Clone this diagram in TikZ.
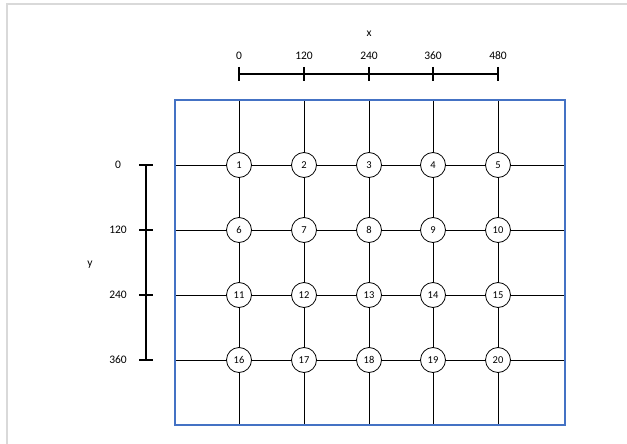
\documentclass[tikz,border=0pt]{standalone}
\usepackage{fontspec}
\setmainfont{Carlito}
\definecolor{frameblue}{RGB}{68,114,196}
\definecolor{bordergray}{RGB}{217,217,217}
\tikzset{
  gnode/.style={circle,draw=black,fill=white,line width=0.8pt,minimum size=25pt,inner sep=0pt,font=\fontsize{10.5}{12}\selectfont},
  gline/.style={draw=black,line width=0.9pt},
  axisline/.style={draw=black,line width=1.5pt},
  lbl/.style={font=\fontsize{11.5}{13}\selectfont,inner sep=0pt},
}
\begin{document}
\begin{tikzpicture}[x=1pt,y=-1pt]
\useasboundingbox (0,0) rectangle (627,444);
% faint page border
\draw[bordergray,line width=2pt] (7,444) -- (7,4) -- (627,4);
% columns and rows
\foreach \c [count=\i] in {239,304,369,433,498} {
  \coordinate (t\i) at (\c,100);
  \coordinate (b\i) at (\c,425);
}
\foreach \r [count=\j] in {165,230,295,360} {
  \coordinate (l\j) at (175,\r);
  \coordinate (r\j) at (565,\r);
}
% nodes
\foreach \r [count=\j] in {165,230,295,360} {
  \foreach \c [count=\i] in {239,304,369,433,498} {
    \pgfmathtruncatemacro{\k}{(\j-1)*5+\i}
    \node[gnode] (n\k) at (\c,\r) {\k};
  }
}
% vertical grid lines
\foreach \i in {1,...,5} {
  \pgfmathtruncatemacro{\a}{\i}
  \pgfmathtruncatemacro{\b}{\i+5}
  \pgfmathtruncatemacro{\cc}{\i+10}
  \pgfmathtruncatemacro{\d}{\i+15}
  \draw[gline] (t\i) -- (n\a);
  \draw[gline] (n\a) -- (n\b);
  \draw[gline] (n\b) -- (n\cc);
  \draw[gline] (n\cc) -- (n\d);
  \draw[gline] (n\d) -- (b\i);
}
% horizontal grid lines
\foreach \j in {1,...,4} {
  \pgfmathtruncatemacro{\a}{(\j-1)*5+1}
  \pgfmathtruncatemacro{\b}{(\j-1)*5+2}
  \pgfmathtruncatemacro{\cc}{(\j-1)*5+3}
  \pgfmathtruncatemacro{\d}{(\j-1)*5+4}
  \pgfmathtruncatemacro{\e}{(\j-1)*5+5}
  \draw[gline] (l\j) -- (n\a);
  \draw[gline] (n\a) -- (n\b);
  \draw[gline] (n\b) -- (n\cc);
  \draw[gline] (n\cc) -- (n\d);
  \draw[gline] (n\d) -- (n\e);
  \draw[gline] (n\e) -- (r\j);
}
% blue frame
\coordinate (fa) at (175,100);
\coordinate (fb) at (565,425);
\draw[frameblue,line width=2.4pt] (fa) rectangle (fb);
% top x axis
\node[lbl] (xl) at (369,34) {x};
\foreach \c/\v [count=\i] in {239/0,304/120,369/240,433/360,498/480} {
  \coordinate (xa\i) at (\c,74);
  \coordinate (xu\i) at (\c,67);
  \coordinate (xd\i) at (\c,81);
  \node[lbl] (xt\i) at (\c,56) {\v};
  \draw[axisline] (xu\i) -- (xd\i);
}
\draw[axisline] (xa1) -- (xa5);
% left y axis
\node[lbl] (yl) at (90,265) {y};
\foreach \r/\v [count=\j] in {165/0,230/120,295/240,360/360} {
  \coordinate (ya\j) at (146,\r);
  \coordinate (yl\j) at (139,\r);
  \coordinate (yr\j) at (153,\r);
  \node[lbl] (yt\j) at (118,\r) {\v};
  \draw[axisline] (yl\j) -- (yr\j);
}
\draw[axisline] (ya1) -- (ya4);
\end{tikzpicture}
\end{document}
